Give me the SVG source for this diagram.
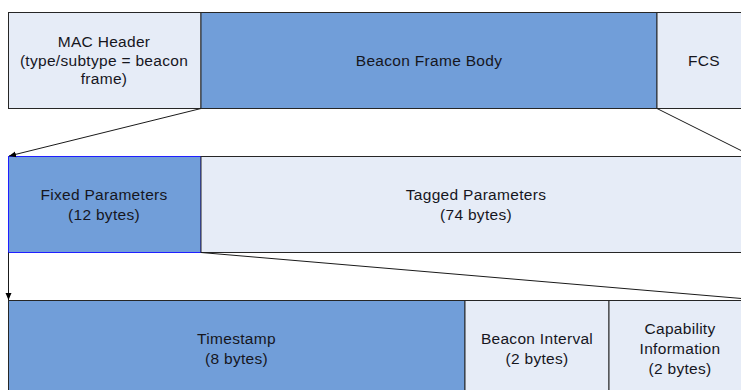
<svg xmlns="http://www.w3.org/2000/svg" width="741" height="390" viewBox="0 0 741 390">
  <style>
    .light { fill: #e6ecf7; stroke: #262626; stroke-width: 1; }
    .dark { fill: #719ed9; stroke: #262626; stroke-width: 1; }
    .sel { fill: #719ed9; stroke: #1f1fff; stroke-width: 1; }
    text { font-family: "Liberation Sans", Arial, sans-serif; font-size: 15.5px; letter-spacing: 0.3px; fill: #16161e; text-anchor: middle; }
    .conn { stroke: #1a1a1a; stroke-width: 1; fill: none; }
  </style>
  <defs>
    <marker id="arrow" markerWidth="8" markerHeight="8" refX="7" refY="4" orient="auto" markerUnits="userSpaceOnUse">
      <path d="M0,1 L7,4 L0,7 Z" fill="#000"/>
    </marker>
  </defs>
  <rect width="741" height="390" fill="#ffffff"/>

  <!-- frame level -->
  <g id="mac-header">
    <rect class="light" x="8.5" y="12.5" width="192.5" height="96"/>
    <text x="104" y="47">MAC Header</text>
    <text x="104" y="65.5">(type/subtype = beacon</text>
    <text x="104" y="84">frame)</text>
  </g>
  <g id="beacon-frame-body">
    <rect class="dark" x="201" y="12.5" width="456" height="96"/>
    <text x="429" y="65.5">Beacon Frame Body</text>
  </g>
  <g id="fcs">
    <rect class="light" x="657" y="12.5" width="94" height="96"/>
    <text x="704" y="65.5">FCS</text>
  </g>

  <!-- frame body level -->
  <g id="fixed-parameters">
    <rect class="sel" x="8.5" y="156.5" width="192.5" height="96"/>
    <text x="104" y="199.5">Fixed Parameters</text>
    <text x="104" y="219.5">(12 bytes)</text>
  </g>
  <g id="tagged-parameters">
    <rect class="light" x="201" y="156.5" width="550" height="96"/>
    <text x="476" y="199.5">Tagged Parameters</text>
    <text x="476" y="219.5">(74 bytes)</text>
  </g>

  <!-- fixed parameters level -->
  <g id="timestamp">
    <rect class="dark" x="8.5" y="300.5" width="456.5" height="96"/>
    <text x="236.5" y="343.5">Timestamp</text>
    <text x="236.5" y="363.5">(8 bytes)</text>
  </g>
  <g id="beacon-interval">
    <rect class="light" x="465" y="300.5" width="144" height="96"/>
    <text x="537" y="343.5">Beacon Interval</text>
    <text x="537" y="363.5">(2 bytes)</text>
  </g>
  <g id="capability-information">
    <rect class="light" x="609" y="300.5" width="142" height="96"/>
    <text x="680" y="333.5">Capability</text>
    <text x="680" y="353.5">Information</text>
    <text x="680" y="373.5">(2 bytes)</text>
  </g>

  <!-- expansion connectors -->
  <g id="connectors">
    <line class="conn" x1="201" y1="108.5" x2="9" y2="156" marker-end="url(#arrow)"/>
    <line class="conn" x1="657" y1="108.5" x2="753" y2="156.5"/>
    <line class="conn" x1="8.5" y1="252.5" x2="8.5" y2="300" marker-end="url(#arrow)"/>
    <line class="conn" x1="201" y1="252.5" x2="765" y2="300.5"/>
  </g>
</svg>
